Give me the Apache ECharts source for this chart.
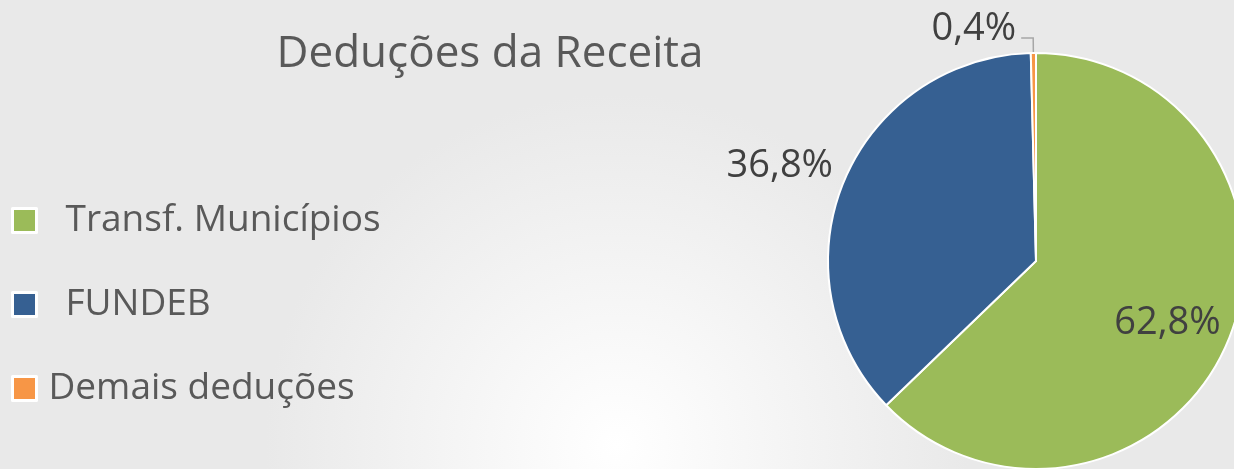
<!DOCTYPE html>
<html lang="pt">
  <head>
    <meta charset="UTF-8" />
    <title>Deduções da Receita</title>
    <style>
      html, body { margin: 0; padding: 0; }
      #main { width: 1234px; height: 469px; }
    </style>
  </head>
  <body>
    <div id="main"></div>

    <script src="https://cdn.jsdelivr.net/npm/echarts@6/dist/echarts.min.js"></script>
    <script>
      // dados
      const categories = ['Transf. Municípios', 'FUNDEB', 'Demais deduções']
      const values = [62.8, 36.8, 0.4]
      const colors = ['#9bbb59', '#366092', '#f79646']

      const fmt = v => v.toFixed(1).replace('.', ',') + '%'

      const labelOpts = [
        { position: 'inside' },
        { position: 'outside' },
        { position: 'outside' }
      ]
      const lineOpts = [
        { show: false },
        { show: false, length: 6, length2: 0 },
        { show: true, length: 15, length2: 12 }
      ]
      // pequenos deslocamentos dos rótulos
      const labelShift = [[33, 20], [0, -14], [0, -9]]

      const data = categories.map((name, i) => ({
        name: name,
        value: values[i],
        itemStyle: { color: colors[i] },
        label: labelOpts[i],
        labelLine: lineOpts[i]
      }))

      const legendText = {
        fontSize: 37,
        lineHeight: 37,
        color: '#595959',
        fontFamily: 'Open Sans'
      }

      const myChart = echarts.init(document.getElementById('main'))

      const option = {
        backgroundColor: {
          type: 'radial',
          x: 0.5,
          y: 0.95,
          r: 0.75,
          colorStops: [
            { offset: 0, color: '#ffffff' },
            { offset: 1, color: '#e9e9e9' }
          ]
        },
        textStyle: { fontFamily: 'Open Sans' },
        title: {
          text: 'Deduções da Receita',
          left: 485,
          top: 27,
          textAlign: 'center',
          textStyle: {
            fontSize: 44,
            fontWeight: 'normal',
            color: '#595959',
            fontFamily: 'Open Sans'
          }
        },
        legend: {
          orient: 'vertical',
          left: 6,
          top: 197,
          icon: 'rect',
          itemWidth: 24,
          itemHeight: 24,
          itemGap: 47,
          itemStyle: { borderColor: '#ffffff', borderWidth: 3 },
          formatter: function (name) {
            // os dois primeiros itens têm recuo maior no original
            return (categories.indexOf(name) < 2 ? '{far|' : '{near|') + name + '}'
          },
          textStyle: Object.assign({}, legendText, {
            rich: {
              far: Object.assign({ padding: [0, 0, 0, 24] }, legendText),
              near: Object.assign({ padding: [0, 0, 0, 7] }, legendText)
            }
          })
        },
        series: [
          {
            type: 'pie',
            center: [1036, 261],
            radius: 208,
            startAngle: 90,
            clockwise: true,
            avoidLabelOverlap: false,
            itemStyle: { borderColor: '#ffffff', borderWidth: 2 },
            label: {
              formatter: p => fmt(p.value),
              fontSize: 38,
              color: '#404040',
              fontFamily: 'Open Sans'
            },
            labelLine: {
              lineStyle: { color: '#a6a6a6', width: 1.5 }
            },
            labelLayout: function (params) {
              const s = labelShift[params.dataIndex]
              return { dx: s[0], dy: s[1] }
            },
            data: data
          }
        ]
      }

      myChart.setOption(option)
    </script>
  </body>
</html>
